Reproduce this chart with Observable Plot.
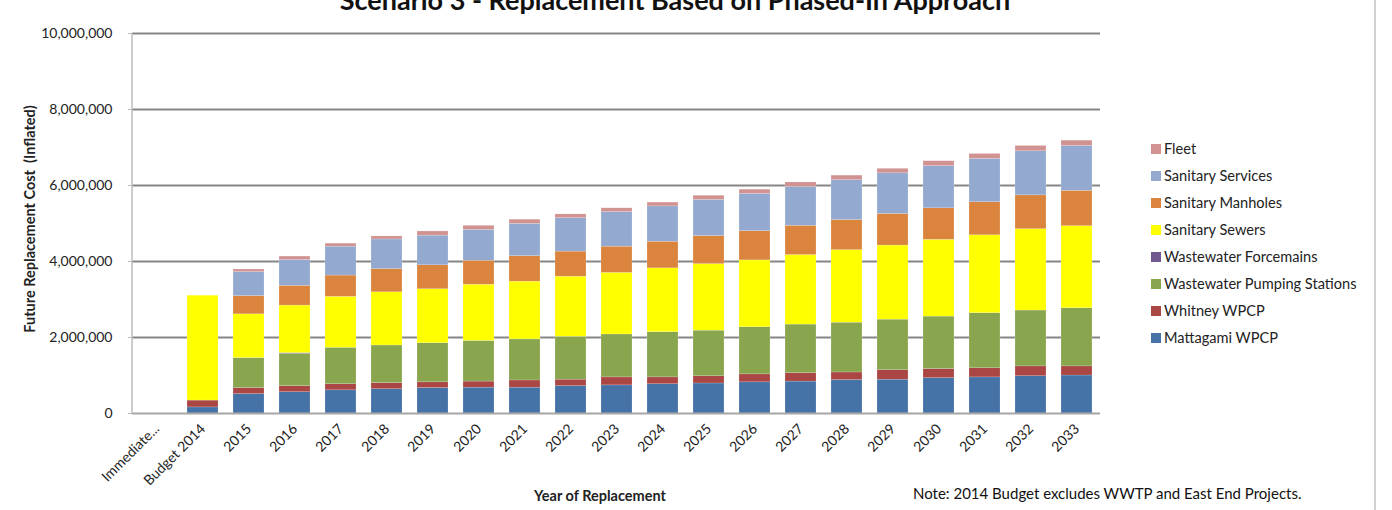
<!DOCTYPE html>
<html>
<head>
<meta charset="utf-8">
<script src="https://cdn.jsdelivr.net/npm/d3@7"></script>
<script src="https://cdn.jsdelivr.net/npm/@observablehq/plot@0.6"></script>
<style>
  html, body { margin: 0; padding: 0; background: #fff; }
  body { width: 1392px; height: 510px; position: relative; overflow: hidden; font-family: Lato, "Open Sans", sans-serif; color: #222; }
  #chart { position: absolute; left: 0; top: 0; }
  .title { position: absolute; left: 0; width: 1350px; top: -15px; text-align: center; font-weight: bold; font-size: 27px; line-height: 30px; color: #111; }
  .ytitle { position: absolute; left: 29px; top: 219px; transform: translate(-50%, -50%) rotate(-90deg); font-weight: bold; font-size: 14.5px; white-space: nowrap; }
  .xtitle { position: absolute; left: 600px; top: 487px; transform: translateX(-50%); font-weight: bold; font-size: 14.5px; white-space: nowrap; }
  .note { position: absolute; left: 913px; top: 484px; font-size: 15px; white-space: nowrap; color: #111; }
  .legend { position: absolute; left: 1151px; top: 135px; font-size: 14.6px; }
  .legend .row { height: 27px; display: flex; align-items: center; white-space: nowrap; }
  .legend .sw { width: 10px; height: 10px; margin-right: 3px; }
  .border { position: absolute; left: 1374px; top: 0; width: 2px; height: 510px; background: #d0d0d0; }
</style>
</head>
<body>
<div class="title">Scenario 3 - Replacement Based on Phased-In Approach</div>
<div id="chart"></div>
<div class="ytitle">Future Replacement Cost&nbsp;&nbsp;(Inflated)</div>
<div class="xtitle">Year of Replacement</div>
<div class="note">Note: 2014 Budget excludes WWTP and East End Projects.</div>
<div class="legend" id="legend"></div>
<div class="border"></div>
<script>
const categories = ["Immediate...", "Budget 2014", "2015", "2016", "2017", "2018", "2019", "2020", "2021", "2022", "2023", "2024", "2025", "2026", "2027", "2028", "2029", "2030", "2031", "2032", "2033"];

const seriesNames = ["Mattagami WPCP", "Whitney WPCP", "Wastewater Pumping Stations", "Wastewater Forcemains", "Sanitary Sewers", "Sanitary Manholes", "Sanitary Services", "Fleet"];
const seriesColors = ["#4572A7", "#AA4643", "#89A54E", "#71588F", "#FFFF00", "#DB843D", "#93A9CF", "#D19392"];

const mattagami = [0, 160000, 510000, 560000, 610000, 640000, 670000, 680000, 680000, 720000, 740000, 770000, 790000, 820000, 840000, 880000, 890000, 930000, 950000, 980000, 1000000];
const whitney   = [0, 180000, 160000, 160000, 160000, 160000, 150000, 160000, 190000, 170000, 210000, 180000, 190000, 210000, 220000, 200000, 250000, 240000, 240000, 260000, 240000];
const pumping   = [0, 0, 790000, 850000, 960000, 990000, 1030000, 1070000, 1080000, 1130000, 1130000, 1190000, 1200000, 1240000, 1280000, 1310000, 1330000, 1380000, 1450000, 1470000, 1530000];
const forcemains= [0, 0, 0, 20000, 0, 0, 0, 0, 0, 0, 0, 0, 0, 0, 0, 0, 0, 0, 0, 0, 0];
const sewers    = [0, 2760000, 1150000, 1250000, 1340000, 1400000, 1420000, 1480000, 1520000, 1580000, 1620000, 1680000, 1750000, 1760000, 1830000, 1910000, 1950000, 2020000, 2050000, 2140000, 2160000];
const manholes  = [0, 0, 480000, 520000, 560000, 610000, 630000, 630000, 670000, 660000, 690000, 700000, 740000, 770000, 770000, 790000, 830000, 830000, 870000, 890000, 930000];
const services  = [0, 0, 630000, 680000, 760000, 780000, 780000, 810000, 850000, 880000, 910000, 930000, 950000, 980000, 1020000, 1050000, 1070000, 1110000, 1140000, 1160000, 1180000];
const fleet     = [0, 0, 70000, 90000, 80000, 80000, 110000, 110000, 110000, 100000, 100000, 100000, 110000, 110000, 120000, 120000, 120000, 130000, 130000, 140000, 140000];

const yTicks = [0, 2000000, 4000000, 6000000, 8000000, 10000000];

const seriesValues = [mattagami, whitney, pumping, forcemains, sewers, manholes, services, fleet];
const data = [];
seriesNames.forEach((s, si) => {
  categories.forEach((c, ci) => {
    data.push({category: c, series: s, value: seriesValues[si][ci]});
  });
});

const fmt = d3.format(",");

const leftAxisLine = (index, scales, values, dims) => {
  const x = dims.marginLeft;
  const line = document.createElementNS("http://www.w3.org/2000/svg", "line");
  line.setAttribute("x1", x); line.setAttribute("x2", x);
  line.setAttribute("y1", scales.y(yTicks[yTicks.length - 1]));
  line.setAttribute("y2", scales.y(0));
  line.setAttribute("stroke", "#bdbdbd");
  line.setAttribute("stroke-width", 1.5);
  return line;
};

const chart = Plot.plot({
  width: 1392,
  height: 510,
  marginLeft: 132,
  marginRight: 292,
  marginTop: 33,
  marginBottom: 97,
  style: {fontFamily: "Lato, 'Open Sans', sans-serif", fontSize: "14px", color: "#222", background: "transparent"},
  x: {domain: categories, paddingInner: 0.33, paddingOuter: 0.165, label: null},
  y: {domain: [0, 10000000], label: null},
  color: {domain: seriesNames, range: seriesColors},
  marks: [
    Plot.gridY(yTicks.slice(1), {stroke: "#868686", strokeOpacity: 1, strokeWidth: 2}),
    Plot.barY(data, {x: "category", y: "value", fill: "series", order: seriesNames, stroke: "#ffffff", strokeOpacity: 0.35, strokeWidth: 0.5}),
    Plot.ruleY([0], {stroke: "#a6a6a6", strokeWidth: 2}),
    leftAxisLine,
    Plot.axisY(yTicks, {tickFormat: fmt, tickSize: 4, tickPadding: 16, stroke: "#bdbdbd", fontSize: 14, label: null}),
    Plot.axisX({tickRotate: -45, tickSize: 0, tickPadding: 13, fontSize: 14, label: null})
  ]
});
document.getElementById("chart").appendChild(chart);

const legend = document.getElementById("legend");
seriesNames.slice().reverse().forEach((s) => {
  const i = seriesNames.indexOf(s);
  const row = document.createElement("div");
  row.className = "row";
  const sw = document.createElement("span");
  sw.className = "sw";
  sw.style.background = seriesColors[i];
  const t = document.createElement("span");
  t.textContent = s;
  row.appendChild(sw); row.appendChild(t);
  legend.appendChild(row);
});
</script>
</body>
</html>
